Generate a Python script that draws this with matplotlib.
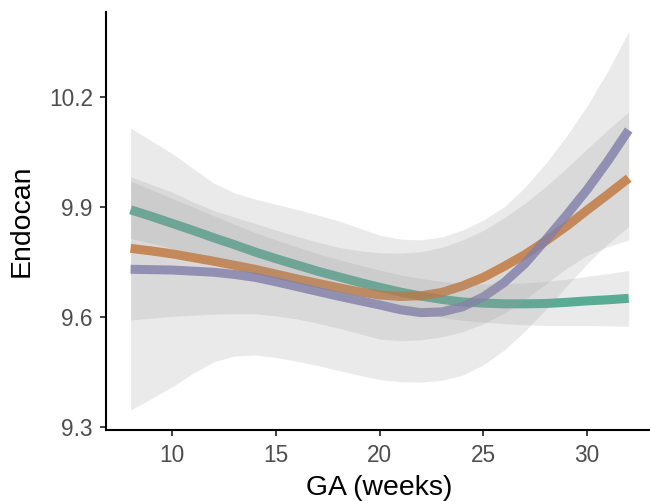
import numpy as np
import matplotlib.pyplot as plt

# Gestational age grid (weeks)
ga = list(range(8, 33))

# Smoothed fits and confidence limits
green_fit = [9.892, 9.874, 9.855, 9.836, 9.816, 9.797, 9.777, 9.759, 9.742, 9.725, 9.710, 9.695, 9.681,
             9.668, 9.657, 9.648, 9.641, 9.638, 9.636, 9.636, 9.637, 9.640, 9.644, 9.647, 9.651]
green_low = [9.814, 9.801, 9.787, 9.772, 9.756, 9.741, 9.724, 9.708, 9.693, 9.677, 9.663, 9.648, 9.634,
             9.621, 9.609, 9.599, 9.591, 9.586, 9.582, 9.579, 9.577, 9.577, 9.577, 9.576, 9.575]
green_up = [9.970, 9.947, 9.923, 9.900, 9.876, 9.853, 9.830, 9.810, 9.791, 9.773, 9.757, 9.742, 9.728,
            9.715, 9.705, 9.697, 9.691, 9.690, 9.690, 9.693, 9.697, 9.703, 9.711, 9.718, 9.727]

orange_fit = [9.787, 9.780, 9.772, 9.762, 9.752, 9.741, 9.730, 9.717, 9.704, 9.692, 9.680, 9.669, 9.660,
              9.656, 9.658, 9.667, 9.685, 9.708, 9.738, 9.770, 9.807, 9.847, 9.891, 9.934, 9.978]
orange_low = [9.592, 9.597, 9.602, 9.605, 9.608, 9.609, 9.609, 9.603, 9.595, 9.583, 9.570, 9.555, 9.540,
              9.536, 9.538, 9.546, 9.560, 9.582, 9.610, 9.648, 9.690, 9.732, 9.768, 9.792, 9.810]
orange_up = [9.982, 9.961, 9.940, 9.914, 9.890, 9.872, 9.855, 9.837, 9.820, 9.804, 9.790, 9.781, 9.775,
             9.774, 9.778, 9.790, 9.810, 9.836, 9.870, 9.910, 9.955, 10.005, 10.058, 10.110, 10.159]

purple_fit = [9.730, 9.729, 9.728, 9.725, 9.722, 9.716, 9.708, 9.696, 9.683, 9.670, 9.657, 9.645, 9.633,
              9.620, 9.612, 9.614, 9.628, 9.655, 9.694, 9.745, 9.810, 9.877, 9.947, 10.025, 10.109]
purple_low = [9.347, 9.378, 9.410, 9.447, 9.478, 9.494, 9.497, 9.490, 9.480, 9.468, 9.455, 9.442, 9.430,
              9.424, 9.423, 9.428, 9.442, 9.470, 9.510, 9.562, 9.620, 9.683, 9.745, 9.800, 9.846]
purple_up = [10.114, 10.080, 10.045, 10.005, 9.965, 9.938, 9.921, 9.907, 9.893, 9.878, 9.862, 9.843, 9.823,
             9.812, 9.810, 9.818, 9.837, 9.864, 9.900, 9.953, 10.018, 10.092, 10.175, 10.270, 10.377]

x_ticks = [10, 15, 20, 25, 30]
y_ticks = [9.3, 9.6, 9.9, 10.2]

plt.rcParams['font.family'] = ['Liberation Sans', 'DejaVu Sans']

fig = plt.figure(figsize=(6.5, 5.01), dpi=100)
ax = fig.add_axes([0.1626, 0.1417, 0.8429, 0.8349])

series = [
    (green_fit, green_low, green_up, '#1B9E77'),
    (orange_fit, orange_low, orange_up, '#D95F02'),
    (purple_fit, purple_low, purple_up, '#7570B3'),
]

# lines underneath, ribbons on top (as in the reference)
for i, (fit, low, up, col) in enumerate(series):
    ax.plot(ga, fit, color=col, lw=6.5, alpha=0.8, solid_capstyle='butt',
            solid_joinstyle='round', zorder=1 + i)
for fit, low, up, col in series:
    ax.fill_between(ga, low, up, color='#999999', alpha=0.2, lw=0, zorder=5)

ax.set_xlim(6.8, 33.2)
ax.set_ylim(9.2926, 10.431)
ax.set_xticks(x_ticks)
ax.set_yticks(y_ticks)
ax.set_yticklabels(['9.3', '9.6', '9.9', '10.2'])

for s in ['top', 'right']:
    ax.spines[s].set_visible(False)
for s in ['left', 'bottom']:
    ax.spines[s].set_linewidth(1.5)
    ax.spines[s].set_color('black')

ax.tick_params(axis='both', length=4.3, width=1.3, color='#333333',
               labelcolor='#4D4D4D', labelsize=16.3)
ax.tick_params(axis='x', pad=6)
ax.tick_params(axis='y', pad=5)

fig.text(0.584, 0.012, 'GA (weeks)', ha='center', va='baseline', fontsize=20.4)
fig.text(0.034, 0.559, 'Endocan', ha='center', va='center', rotation=90, fontsize=20.4)

fig.savefig('out.png', dpi=100)
